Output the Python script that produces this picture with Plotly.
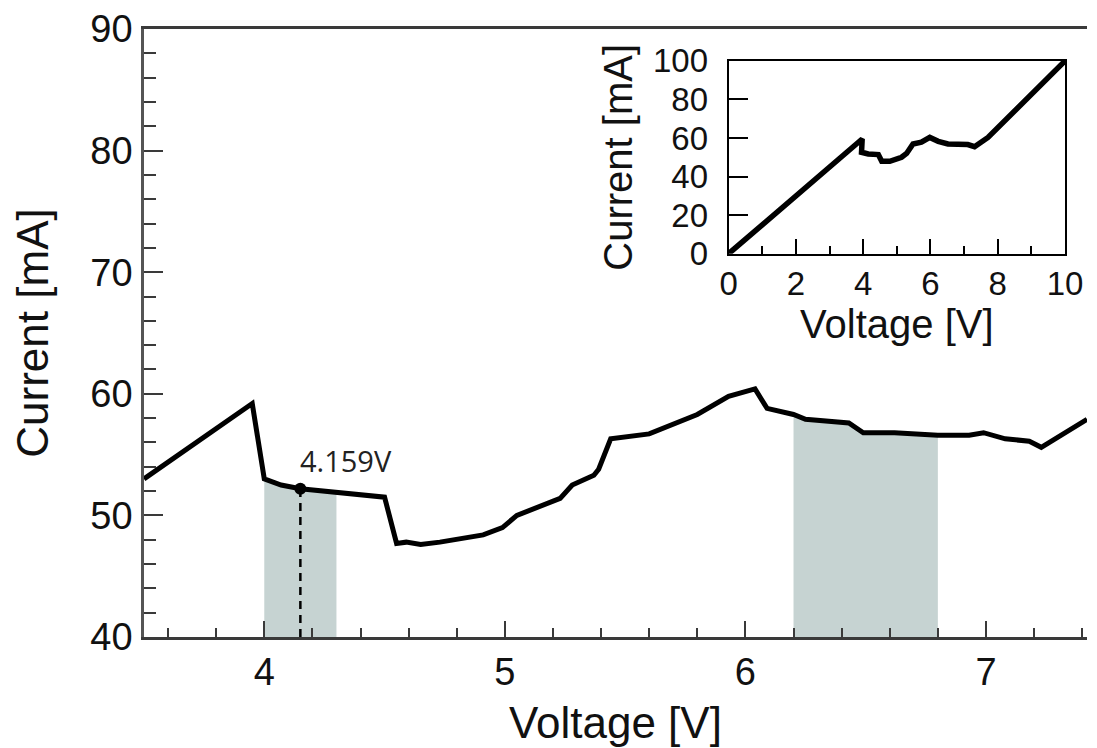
import numpy as np
import plotly.graph_objects as go

# ---- main curve ----
voltage = [3.50, 3.95, 4.00, 4.07, 4.15, 4.30, 4.50, 4.55, 4.59, 4.65, 4.73, 4.91, 4.99,
           5.05, 5.23, 5.28, 5.37, 5.39, 5.44, 5.60, 5.80, 5.93, 6.04, 6.09, 6.20, 6.25,
           6.43, 6.49, 6.62, 6.80, 6.93, 6.99, 7.08, 7.18, 7.23, 7.42]
current = [53.0, 59.2, 53.0, 52.5, 52.2, 51.9, 51.5, 47.7, 47.8, 47.6, 47.8, 48.4, 49.0,
           50.0, 51.4, 52.5, 53.3, 53.8, 56.3, 56.7, 58.3, 59.8, 60.4, 58.8, 58.3, 57.9,
           57.6, 56.8, 56.8, 56.6, 56.6, 56.8, 56.3, 56.1, 55.6, 57.9]

# shaded voltage windows
shade_ranges = [(4.00, 4.30), (6.20, 6.80)]

# marked point
marker_voltage = 4.15
marker_current = 52.2
marker_label = "4.159V"

# ---- inset curve (full sweep) ----
inset_voltage = [0.0, 3.85, 3.97, 3.95, 4.15, 4.45, 4.55, 4.79, 5.14, 5.29, 5.48, 5.73,
                 5.98, 6.23, 6.52, 7.11, 7.31, 7.71, 10.0]
inset_current = [0.0, 58.6, 59.5, 52.6, 51.7, 51.4, 47.9, 47.9, 50.0, 52.0, 56.9, 57.8,
                 60.3, 58.3, 56.9, 56.6, 55.5, 60.3, 100.0]

FONT = "Liberation Sans, Arial, Helvetica, sans-serif"
SHADE = "rgb(198,211,210)"
AX = "#3a3a3a"

v = np.array(voltage)
c = np.array(current)

fig = go.Figure()

for lo, hi in shade_ranges:
    m = (v >= lo - 1e-9) & (v <= hi + 1e-9)
    fig.add_trace(go.Scatter(x=v[m], y=c[m], mode="lines", fill="tozeroy",
                             fillcolor=SHADE, line=dict(width=0, color=SHADE),
                             hoverinfo="skip", xaxis="x", yaxis="y"))

fig.add_trace(go.Scatter(x=[marker_voltage, marker_voltage], y=[40, marker_current],
                         mode="lines", line=dict(color="black", width=2.5, dash="8px,6px"),
                         xaxis="x", yaxis="y"))

fig.add_trace(go.Scatter(x=voltage, y=current, mode="lines",
                         line=dict(color="black", width=5, shape="linear"),
                         xaxis="x", yaxis="y"))

fig.add_trace(go.Scatter(x=[marker_voltage], y=[marker_current], mode="markers",
                         marker=dict(color="black", size=12), xaxis="x", yaxis="y"))

fig.add_trace(go.Scatter(x=inset_voltage, y=inset_current, mode="lines",
                         line=dict(color="black", width=5.5), xaxis="x2", yaxis="y2"))

fig.add_annotation(x=marker_voltage, y=54.5, xref="x", yref="y", text=marker_label,
                   showarrow=False, xanchor="left", yanchor="middle", xshift=-2,
                   font=dict(family="Open Sans, sans-serif", size=29, color="#222"))

fig.update_layout(
    width=1097, height=748,
    margin=dict(l=136, r=0, t=20, b=119),
    paper_bgcolor="white", plot_bgcolor="white",
    showlegend=False,
    font=dict(family=FONT, color="#111"),
    xaxis=dict(
        domain=[0, 1], range=[3.5, 7.42], showgrid=False, zeroline=False,
        showline=True, linecolor=AX, linewidth=2.5, mirror=True,
        ticks="inside", ticklen=16, tickwidth=2, tickcolor=AX,
        tick0=0, dtick=1, tickfont=dict(size=38, family=FONT, color="#111"),
        minor=dict(ticks="inside", dtick=0.2, ticklen=9, tickwidth=2, tickcolor=AX),
        ticklabelstandoff=0, ticklabeloverflow="allow",
        title=dict(text="Voltage [V]", font=dict(size=44, family=FONT, color="#111"), standoff=15),
    ),
    yaxis=dict(
        domain=[0, 1], range=[40, 90], showgrid=False, zeroline=False,
        showline=True, linecolor="#555", linewidth=2.5, mirror=False,
        ticks="inside", ticklen=19, tickwidth=2, tickcolor=AX,
        tick0=0, dtick=10, tickfont=dict(size=38, family=FONT, color="#111"),
        minor=dict(ticks="inside", dtick=2, ticklen=12, tickwidth=2, tickcolor=AX),
        ticklabelstandoff=1, ticklabeloverflow="allow",
        title=dict(text="Current [mA]", font=dict(size=44, family=FONT, color="#111"), standoff=28),
    ),
    xaxis2=dict(
        domain=[0.620, 0.9767], anchor="y2", range=[0, 10], showgrid=False, zeroline=False,
        showline=True, linecolor="black", linewidth=2, mirror=True,
        ticks="inside", ticklen=15, tickwidth=2, tickcolor="black",
        tick0=0, dtick=2, tickfont=dict(size=33, family=FONT, color="#111"),
        minor=dict(ticks="inside", dtick=1, ticklen=8, tickwidth=2, tickcolor="black"),
        ticklabelstandoff=0, ticklabeloverflow="allow",
        title=dict(text="Voltage [V]", font=dict(size=40, family=FONT, color="#111"), standoff=0),
    ),
    yaxis2=dict(
        domain=[0.6305, 0.9475], anchor="x2", range=[0, 100], showgrid=False, zeroline=False,
        showline=True, linecolor="black", linewidth=2, mirror=True,
        ticks="inside", ticklen=19, tickwidth=2, tickcolor="black",
        tick0=0, dtick=20, tickfont=dict(size=33, family=FONT, color="#111"),
        ticklabelstandoff=12, ticklabeloverflow="allow",
        title=dict(text="Current [mA]", font=dict(size=40, family=FONT, color="#111"), standoff=8),
    ),
)

fig.write_html("out.html")
